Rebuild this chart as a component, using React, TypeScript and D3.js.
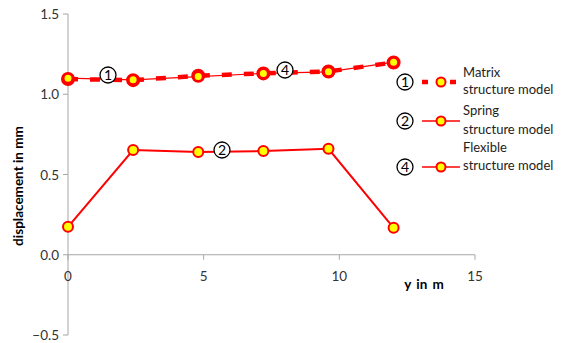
import * as d3 from "d3";
import { useEffect, useRef } from "react";

const positions = [0, 2.4, 4.8, 7.2, 9.6, 12];
const matrixValues = [1.095, 1.088, 1.115, 1.13, 1.142, 1.198];
const flexibleValues = [1.1, 1.09, 1.11, 1.13, 1.14, 1.2];
const springValues = [0.174, 0.652, 0.64, 0.646, 0.66, 0.168];
const yTicks = [-0.5, 0, 0.5, 1.0, 1.5];
const xTicks = [0, 5, 10, 15];
const legendNames = [
  ["1", "Matrix", "structure model"],
  ["2", "Spring", "structure model"],
  ["4", "Flexible", "structure model"],
];

const App = () => {
  const ref = useRef<SVGSVGElement>(null);

  useEffect(() => {
    const svg = d3.select(ref.current);
    svg.selectAll("*").remove();
    const font = "Lato, 'Open Sans', sans-serif";

    const x = d3.scaleLinear().domain([0, 15]).range([68, 475]);
    const y = d3.scaleLinear().domain([-0.5, 1.5]).range([335, 14]);
    const axisColor = "#a6a6a6";

    // y axis
    const gy = svg.append("g").attr("transform", `translate(${x(0)},0)`);
    gy.append("line").attr("y1", y(-0.5)).attr("y2", y(1.5)).attr("stroke", axisColor);
    yTicks.forEach((t) => {
      gy.append("line").attr("x1", -5).attr("x2", 0).attr("y1", y(t)).attr("y2", y(t)).attr("stroke", axisColor);
      gy.append("text")
        .attr("x", -9)
        .attr("y", y(t) + 5)
        .attr("text-anchor", "end")
        .attr("font-family", font)
        .attr("font-size", 13.5)
        .attr("fill", "#333")
        .text(d3.format(".1f")(t));
    });

    // x axis
    const gx = svg.append("g").attr("transform", `translate(0,${y(0)})`);
    gx.append("line").attr("x1", x(0)).attr("x2", x(15)).attr("stroke", axisColor);
    xTicks.forEach((t) => {
      gx.append("line").attr("x1", x(t)).attr("x2", x(t)).attr("y1", 0).attr("y2", 5).attr("stroke", axisColor);
      gx.append("text")
        .attr("x", x(t))
        .attr("y", 26)
        .attr("text-anchor", "middle")
        .attr("font-family", font)
        .attr("font-size", 13.5)
        .attr("fill", "#333")
        .text(t);
    });

    // axis titles
    svg.append("text")
      .attr("transform", `translate(23,186) rotate(-90)`)
      .attr("text-anchor", "middle")
      .attr("font-family", font)
      .attr("font-size", 13.5)
      .attr("font-weight", "bold")
      .text("displacement in mm");
    svg.append("text")
      .attr("x", 424)
      .attr("y", 289)
      .attr("text-anchor", "middle")
      .attr("font-family", font)
      .attr("font-size", 13.5)
      .attr("font-weight", "bold")
      .attr("word-spacing", 2)
      .text("y in m");

    const line = d3.line<number>().x((_, i) => x(positions[i])).y((d) => y(d));

    // spring
    svg.append("path").datum(springValues).attr("d", line).attr("fill", "none").attr("stroke", "red").attr("stroke-width", 2);
    // flexible (thin)
    svg.append("path").datum(flexibleValues).attr("d", line).attr("fill", "none").attr("stroke", "red").attr("stroke-width", 1.2);
    // matrix (thick dashed)
    svg.append("path").datum(matrixValues).attr("d", line).attr("fill", "none").attr("stroke", "red").attr("stroke-width", 4.5).attr("stroke-dasharray", "10,12");

    const markers = (vals: number[], r: number, sw: number) => {
      svg.append("g").selectAll("circle").data(vals).join("circle")
        .attr("cx", (_, i) => x(positions[i]))
        .attr("cy", (d) => y(d))
        .attr("r", r)
        .attr("fill", "yellow")
        .attr("stroke", "red")
        .attr("stroke-width", sw);
    };
    markers(matrixValues, 5.5, 3);
    markers(springValues, 5, 2);
    markers(flexibleValues, 4.5, 2);

    const circled = (cx: number, cy: number, label: string) => {
      svg.append("circle").attr("cx", cx).attr("cy", cy).attr("r", 8).attr("fill", "white").attr("stroke", "black").attr("stroke-width", 1.3);
      svg.append("text")
        .attr("x", cx)
        .attr("y", cy + 5)
        .attr("text-anchor", "middle")
        .attr("font-family", font)
        .attr("font-size", 14)
        .text(label);
    };
    circled(108, 75, "1");
    circled(222, 150, "2");
    circled(285, 70, "4");

    // legend
    const legendY = [82, 121, 167];
    const textOffsets = [[-5, 12], [-6, 13], [-15, 3]];
    legendNames.forEach(([num, a, b], i) => {
      const ly = legendY[i];
      circled(405, ly, num);
      if (i === 0) {
        svg.append("line").attr("x1", 422).attr("x2", 462).attr("y1", ly).attr("y2", ly)
          .attr("stroke", "red").attr("stroke-width", 4.5).attr("stroke-dasharray", "6,8");
      } else {
        svg.append("line").attr("x1", 422).attr("x2", 460).attr("y1", ly).attr("y2", ly)
          .attr("stroke", "red").attr("stroke-width", 1.5);
      }
      svg.append("circle").attr("cx", 441).attr("cy", ly).attr("r", 4.5).attr("fill", "yellow").attr("stroke", "red").attr("stroke-width", 2);
      svg.append("text").attr("x", 463).attr("y", ly + textOffsets[i][0]).attr("font-family", font).attr("font-size", 13).attr("fill", "#222").text(a);
      svg.append("text").attr("x", 463).attr("y", ly + textOffsets[i][1]).attr("font-family", font).attr("font-size", 13).attr("fill", "#222").text(b);
    });
  }, []);

  return (
    <svg
      ref={ref}
      width={562}
      height={343}
      style={{ position: "absolute", left: 0, top: 0, background: "white" }}
    />
  );
};

export default App;
